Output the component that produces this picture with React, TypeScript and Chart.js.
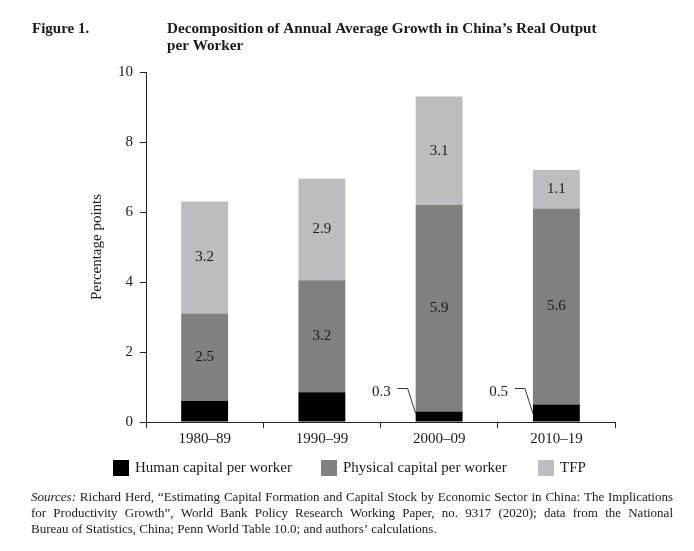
import React, { useEffect, useRef } from 'react';
import { Chart, registerables } from 'chart.js';

Chart.register(...registerables);

// data
const periods = ['1980–89', '1990–99', '2000–09', '2010–19'];
const humanCapital = [0.6, 0.85, 0.3, 0.5];
const physicalCapital = [2.5, 3.2, 5.9, 5.6];
const tfp = [3.2, 2.9, 3.1, 1.1];
const seriesNames = ['Human capital per worker', 'Physical capital per worker', 'TFP'];
const seriesColors = ['#000000', '#808080', '#bcbdc1'];
const yTicks = [0, 2, 4, 6, 8, 10];
// human capital values shown with a callout line (too thin to label inside)
const humanCallout = [false, false, true, true];

const figureLabel = 'Figure 1.';
const titleLines = [
  'Decomposition of Annual Average Growth in China’s Real Output',
  'per Worker',
];
const sourceLines = [
  'Sources: Richard Herd, “Estimating Capital Formation and Capital Stock by Economic Sector in China: The Implications',
  'for Productivity Growth”, World Bank Policy Research Working Paper, no. 9317 (2020); data from the National',
  'Bureau of Statistics, China; Penn World Table 10.0; and authors’ calculations.',
];

const FONT = '"Liberation Serif", "Times New Roman", serif';
const INK = '#1a1a1a';

function fitSize(ctx: CanvasRenderingContext2D, text: string, weight: string, base: number, target: number) {
  ctx.font = `${weight} ${base}px ${FONT}`;
  const w = ctx.measureText(text).width;
  return Math.max(base - 2, Math.min(base + 1, (base * target) / w));
}

const valueLabels = {
  id: 'valueLabels',
  afterDatasetsDraw(chart: any) {
    const ctx: CanvasRenderingContext2D = chart.ctx;
    ctx.save();
    ctx.fillStyle = INK;
    ctx.font = `15px ${FONT}`;
    ctx.textAlign = 'center';
    ctx.textBaseline = 'middle';
    [1, 2].forEach((di) => {
      const meta = chart.getDatasetMeta(di);
      meta.data.forEach((el: any, i: number) => {
        const v = chart.data.datasets[di].data[i] as number;
        const { x, y, base } = el.getProps(['x', 'y', 'base'], true);
        ctx.fillText(v.toFixed(1), x, (y + base) / 2);
      });
    });

    const hm = chart.getDatasetMeta(0);
    hm.data.forEach((el: any, i: number) => {
      if (!humanCallout[i]) return;
      const { x, base, width } = el.getProps(['x', 'base', 'width'], true);
      const left = x - width / 2;
      const ly = base - 33;
      ctx.strokeStyle = '#333';
      ctx.lineWidth = 1;
      ctx.beginPath();
      ctx.moveTo(left - 18, ly);
      ctx.lineTo(left - 8, ly);
      ctx.lineTo(left, base - 8);
      ctx.stroke();
      ctx.textAlign = 'right';
      ctx.fillText(humanCapital[i].toFixed(1), left - 25, ly + 4);
    });
    ctx.restore();
  },
};

const frameText = {
  id: 'frameText',
  afterDraw(chart: any) {
    const ctx: CanvasRenderingContext2D = chart.ctx;
    ctx.save();
    ctx.fillStyle = INK;
    ctx.textBaseline = 'alphabetic';
    ctx.textAlign = 'left';

    // heading
    ctx.font = `bold 15px ${FONT}`;
    ctx.fillText(figureLabel, 32, 33);
    const ts = fitSize(ctx, titleLines[0], 'bold', 15, 430);
    ctx.font = `bold ${ts}px ${FONT}`;
    ctx.fillText(titleLines[0], 167, 33);
    ctx.fillText(titleLines[1], 167, 50);

    // legend
    const boxX = [113, 321, 538];
    ctx.font = `15px ${FONT}`;
    ctx.textBaseline = 'middle';
    seriesNames.forEach((name, i) => {
      ctx.fillStyle = seriesColors[i];
      ctx.fillRect(boxX[i], 460, 16, 16);
      ctx.fillStyle = INK;
      ctx.fillText(name, boxX[i] + 22, 468);
    });

    // sources, justified
    ctx.textBaseline = 'alphabetic';
    const x0 = 31;
    const x1 = 673;
    let size = 13;
    const fontFor = (w: string, s: number) => (w === 'Sources:' ? `italic ${s}px ${FONT}` : `${s}px ${FONT}`);
    const natural = (line: string, s: number) => {
      const words = line.split(' ');
      let t = 0;
      words.forEach((w) => {
        ctx.font = fontFor(w, s);
        t += ctx.measureText(w).width;
      });
      ctx.font = `${s}px ${FONT}`;
      return t + ctx.measureText(' ').width * (words.length - 1) * 0.8;
    };
    while (size > 10 && Math.max(natural(sourceLines[0], size), natural(sourceLines[1], size)) > x1 - x0) {
      size -= 0.25;
    }
    const baselines = [501, 517, 533];
    sourceLines.forEach((line, li) => {
      const words = line.split(' ');
      const widths = words.map((w) => {
        ctx.font = fontFor(w, size);
        return ctx.measureText(w).width;
      });
      const total = widths.reduce((a, b) => a + b, 0);
      ctx.font = `${size}px ${FONT}`;
      const gap = li < 2 ? (x1 - x0 - total) / (words.length - 1) : ctx.measureText(' ').width;
      let cx = x0;
      words.forEach((w, wi) => {
        ctx.font = fontFor(w, size);
        ctx.fillText(w, cx, baselines[li]);
        cx += widths[wi] + gap;
      });
    });
    ctx.restore();
  },
};

export default function App() {
  const canvasRef = useRef<HTMLCanvasElement | null>(null);

  useEffect(() => {
    const canvas = canvasRef.current;
    if (!canvas) return;
    const tickFont = { family: FONT, size: 15 };
    const chart = new Chart(canvas, {
      type: 'bar',
      data: {
        labels: periods,
        datasets: [humanCapital, physicalCapital, tfp].map((d, i) => ({
          label: seriesNames[i],
          data: d,
          backgroundColor: seriesColors[i],
          borderWidth: 0,
          barPercentage: 0.4,
          categoryPercentage: 1,
        })),
      },
      options: {
        responsive: false,
        animation: false,
        layout: { padding: { left: 80, right: 79, top: 72, bottom: 99 } },
        plugins: {
          legend: { display: false },
          tooltip: { enabled: false },
          title: { display: false },
        },
        scales: {
          x: {
            stacked: true,
            grid: { offset: true, drawOnChartArea: false, tickLength: 6, color: '#222' },
            border: { color: '#222' },
            ticks: { font: tickFont, color: INK, padding: 2 },
            afterFit: (s: any) => {
              s.height = 30;
            },
          },
          y: {
            stacked: true,
            min: 0,
            max: 10,
            afterBuildTicks: (s: any) => {
              s.ticks = yTicks.map((v) => ({ value: v }));
            },
            grid: { drawOnChartArea: false, tickLength: 6, color: '#222' },
            border: { color: '#222' },
            ticks: { font: tickFont, color: INK, padding: 7 },
            title: {
              display: true,
              text: 'Percentage points',
              font: tickFont,
              color: INK,
              padding: { top: 8, bottom: 0 },
            },
            afterFit: (s: any) => {
              s.width = 66;
            },
          },
        },
      },
      plugins: [valueLabels, frameText],
    });
    return () => chart.destroy();
  }, []);

  return (
    <div style={{ position: 'absolute', left: 0, top: 0, width: 694, height: 551, background: '#fff' }}>
      <canvas ref={canvasRef} width={694} height={551} />
    </div>
  );
}
